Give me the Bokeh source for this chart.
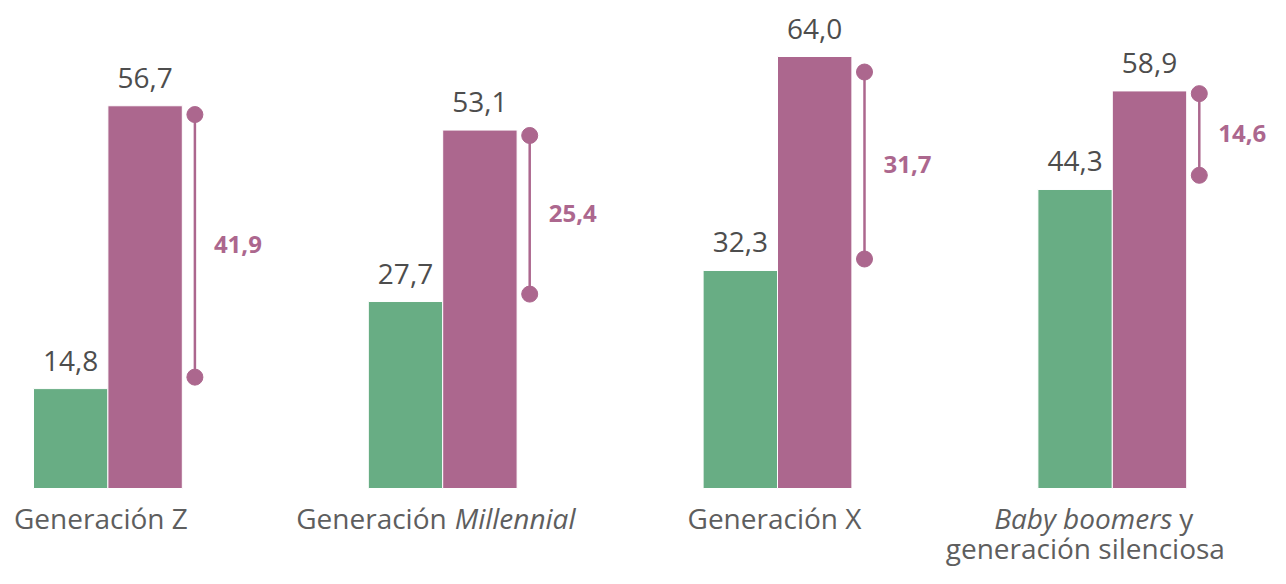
from bokeh.plotting import figure
from bokeh.models import ColumnDataSource, Range1d
from bokeh.core.properties import value
from bokeh.embed import file_html
from bokeh.resources import INLINE

# ---------------- data ----------------
categories = ["Generación Z", "Generación Millennial", "Generación X",
              "Baby boomers y generación silenciosa"]
green_vals = [14.8, 27.7, 32.3, 44.3]
purple_vals = [56.7, 53.1, 64.0, 58.9]
gap_vals = [41.9, 25.4, 31.7, 14.6]
dumbbell_top = [55.4, 52.3, 61.7, 58.5]
dumbbell_bottom = [16.5, 28.8, 34.0, 46.4]

# label pieces per category: (category index, text, style, align, x px offset, line)
label_pieces = [
    (0, "Generación Z", "normal", "center", -7, 0),
    (1, "Generación", "normal", "right", 4, 0),
    (1, "Millennial", "italic", "left", 12, 0),
    (2, "Generación X", "normal", "center", -3, 0),
    (3, "Baby boomers", "italic", "right", 60, 0),
    (3, "y", "normal", "left", 67, 0),
    (3, "generación silenciosa", "normal", "center", -27, 1),
]

GREEN = "#68AD84"
PURPLE = "#AC678E"
TXT = "#4D4D4D"
CAT_TXT = "#5E5E5E"
FONT = "Open Sans"

W, H = 1270, 568
first_center_px = 107.4
group_px = 334.8
bar_w = 74.4 / group_px
px_per_unit = 6.75
base_from_bottom = 80

fmt = lambda v: f"{v:.1f}".replace(".", ",")

xs = list(range(len(categories)))
gx = [i - bar_w / 2 for i in xs]
px = [i + bar_w / 2 for i in xs]

p = figure(width=W, height=H, output_backend="svg", toolbar_location=None,
           x_range=Range1d(-first_center_px / group_px, (W - first_center_px) / group_px),
           y_range=Range1d(-base_from_bottom / px_per_unit, (H - base_from_bottom) / px_per_unit),
           min_border=0)
p.axis.visible = False
p.grid.visible = False
p.outline_line_color = None
p.background_fill_color = "white"
p.border_fill_color = "white"

src = ColumnDataSource(dict(
    gx=gx, px=px, green=green_vals, purple=purple_vals,
    glab=[fmt(v) for v in green_vals], plab=[fmt(v) for v in purple_vals],
    dx=[i + 87 / group_px for i in xs], tx=[i + 130 / group_px for i in xs],
    top=dumbbell_top, bot=dumbbell_bottom,
    mid=[(a + b) / 2 for a, b in zip(dumbbell_top, dumbbell_bottom)],
    gap=[fmt(v) for v in gap_vals],
))

p.vbar(x="gx", width=bar_w, top="green", bottom=0, source=src,
       fill_color=GREEN, line_color="white", line_width=1)
p.vbar(x="px", width=bar_w, top="purple", bottom=0, source=src,
       fill_color=PURPLE, line_color="white", line_width=1)

# value labels
p.text(x="gx", y="green", text="glab", source=src, text_align="center",
       text_baseline="alphabetic", y_offset=-28, text_font=value(FONT),
       text_font_size="28px", text_color=TXT)
p.text(x="px", y="purple", text="plab", source=src, text_align="center",
       text_baseline="alphabetic", y_offset=-28, text_font=value(FONT),
       text_font_size="28px", text_color=TXT)

# dumbbells
p.segment(x0="dx", y0="top", x1="dx", y1="bot", source=src,
          line_color=PURPLE, line_width=2.5)
p.scatter(x="dx", y="top", source=src, size=16, fill_color=PURPLE, line_color=PURPLE)
p.scatter(x="dx", y="bot", source=src, size=16, fill_color=PURPLE, line_color=PURPLE)
p.text(x="tx", y="mid", text="gap", source=src, text_align="center",
       text_baseline="alphabetic", y_offset=-1, text_font=value(FONT),
       text_font_size="24px", text_font_style="bold", text_color=PURPLE)

# category labels
lab = ColumnDataSource(dict(
    x=[xs[c] for c, *_ in label_pieces],
    y=[0] * len(label_pieces),
    text=[t for _, t, *_ in label_pieces],
    style=[s for _, _, s, *_ in label_pieces],
    align=[a for _, _, _, a, *_ in label_pieces],
    xo=[o for *_, o, _ in label_pieces],
    yo=[29 + 30 * ln for *_, ln in label_pieces],
))
p.text(x="x", y="y", text="text", source=lab, text_align="align",
       text_font_style="style", x_offset="xo", y_offset="yo",
       text_baseline="alphabetic", text_font=value(FONT),
       text_font_size="28px", text_color=CAT_TXT)

open("out.html", "w").write(file_html(p, INLINE))
